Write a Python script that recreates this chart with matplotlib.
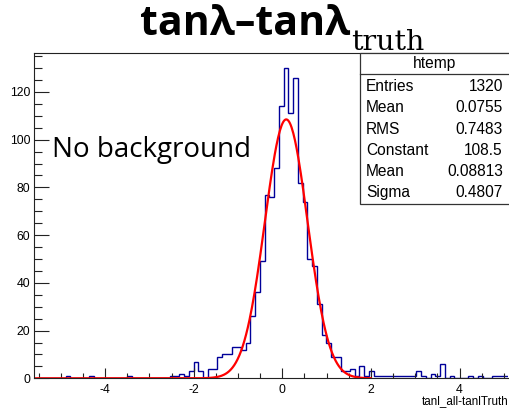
import numpy as np
import matplotlib
matplotlib.use("Agg")
from matplotlib import pyplot as plt
from matplotlib.patches import Rectangle
from matplotlib.ticker import MultipleLocator

# histogram of tanl_all - tanlTruth, 100 bins
bin_lo, bin_hi, n_bins = -5.534, 5.166, 100
counts = [0, 0, 0, 0, 0, 0, 1, 0, 0, 0,
          0, 1, 0, 0, 0, 0, 0, 0, 0, 1,
          0, 0, 0, 0, 0, 0, 0, 0, 1, 1,
          2, 1, 3, 7, 3, 0, 4, 4, 9, 10,
          10, 13, 13, 12, 15, 26, 36, 49, 77, 76,
          88, 114, 130, 111, 126, 82, 74, 50, 47, 31,
          18, 15, 9, 9, 3, 3, 4, 1, 5, 1,
          3, 1, 1, 1, 1, 1, 1, 1, 1, 1,
          3, 1, 0, 2, 1, 6, 0, 1, 0, 0,
          0, 1, 0, 1, 0, 0, 1, 1, 1, 1]

# gaussian fit
g_const, g_mean, g_sigma = 108.5, 0.08813, 0.4807
fit_lo, fit_hi = -5.6, 2.0

stat_names = ["Entries", "Mean", "RMS", "Constant", "Mean", "Sigma"]
stat_values = ["1320", "0.0755", "0.7483", "108.5", "0.08813", "0.4807"]

plt.rcParams['axes.unicode_minus'] = False

W, H = 510, 408
fig = plt.figure(figsize=(W/100, H/100), dpi=100)

def fx(px):
    return px / W

def fy(py):
    return 1 - py / H

ax = fig.add_axes([fx(34.3), fy(378.3), fx(508) - fx(34.3), fy(53.3) - fy(378.3)])

edges = np.linspace(bin_lo, bin_hi, n_bins + 1)
ax.stairs(counts, edges, color='#000099', linewidth=1.0)

x = np.linspace(fit_lo, fit_hi, 400)
ax.plot(x, g_const * np.exp(-0.5 * ((x - g_mean) / g_sigma)**2), color='#ff0000', linewidth=1.6)

ax.set_xlim(-5.6, 5.095)
ax.set_ylim(0, 136.2)

ax.xaxis.set_major_locator(MultipleLocator(2))
ax.xaxis.set_minor_locator(MultipleLocator(0.5))
ax.yaxis.set_major_locator(MultipleLocator(20))
ax.yaxis.set_minor_locator(MultipleLocator(5))
ax.tick_params(which='both', direction='in', top=False, right=False, width=0.8, color='#222222',
               labelsize=8.8, labelfontfamily='Liberation Sans')
ax.tick_params(axis='x', which='major', length=7.2, pad=4)
ax.tick_params(axis='x', which='minor', length=3.6)
ax.tick_params(axis='y', which='major', length=10.8, pad=3)
ax.tick_params(axis='y', which='minor', length=5.4)
for s in ax.spines.values():
    s.set_color('#222222')
    s.set_linewidth(0.8)
ax.spines['right'].set_visible(False)

fig.text(fx(509), fy(404.3), "tanl_all-tanlTruth", ha='right', va='baseline',
         fontsize=8.4, family='Liberation Sans')

fig.text(fx(52), fy(157), "No background", ha='left', va='baseline',
         fontsize=20, family='Open Sans')

# title: bold main part plus serif subscript
t1 = fig.text(fx(140), fy(35), "tan\u03bb\u2013tan\u03bb", ha='left', va='baseline',
              fontsize=29.5, fontweight='bold', family=['Open Sans', 'DejaVu Sans'])
r = fig.canvas.get_renderer()
bb = t1.get_window_extent(renderer=r)
fig.text(bb.x1 / W + 0.002, fy(50), "truth", ha='left', va='baseline',
         fontsize=20.5, family='DejaVu Serif')

# stats box
fig.patches.append(Rectangle((fx(360), fy(204)), fx(160), fy(53.3) - fy(204),
                             transform=fig.transFigure, facecolor='white',
                             edgecolor='#333333', linewidth=0.9, zorder=5))
fig.lines.append(plt.Line2D([fx(360), fx(512)], [fy(74), fy(74)], transform=fig.transFigure,
                            color='#333333', linewidth=0.9, zorder=6))
fig.text(fx(435), fy(63.5), "htemp", ha='center', va='center', fontsize=11.2,
         family='Liberation Sans', zorder=7)
rows_y = [86.5, 107.5, 129.5, 150.5, 171.5, 192.5]
for name, val, yy in zip(stat_names, stat_values, rows_y):
    fig.text(fx(366), fy(yy), name, ha='left', va='center', fontsize=11.2,
             family='Liberation Sans', zorder=7)
    fig.text(fx(503), fy(yy), val, ha='right', va='center', fontsize=11.2,
             family='Liberation Sans', zorder=7)

fig.savefig("out.png", dpi=100)
